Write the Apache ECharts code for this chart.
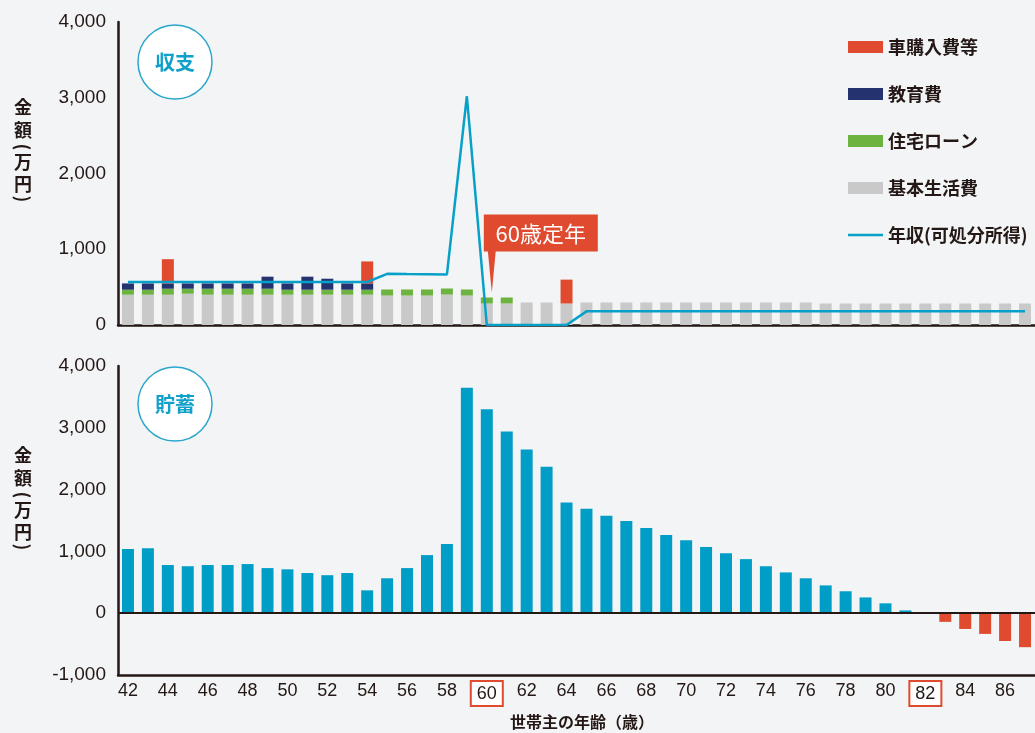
<!DOCTYPE html>
<html>
<head>
<meta charset="utf-8">
<script src="https://cdn.jsdelivr.net/npm/echarts@6/dist/echarts.min.js"></script>
<style>
  html, body { margin: 0; padding: 0; background: #f3f4f6; }
  #chart { width: 1035px; height: 733px; }
</style>
</head>
<body>
<div id="chart"></div>
<script>
// 世帯主の年齢（歳）
const ages = [];
for (let a = 42; a <= 87; a++) ages.push(String(a));

// 収支（万円）
const basicLiving = [
  400, 400, 400, 413, 400, 400, 400, 400, 400, 400, 400, 400, 400,
  389, 389, 389, 402, 389,
  284, 284, 297, 297, 284,
  297, 297, 297, 297, 297, 297, 297, 297, 297, 297, 297, 297,
  284, 284, 284, 284, 284, 284, 284, 284, 284, 284, 284
];
const homeLoan = [
  66, 66, 79, 66, 79, 79, 79, 79, 66, 66, 66, 66, 66,
  80, 80, 80, 80, 80,
  79, 79, 0, 0, 0,
  0, 0, 0, 0, 0, 0, 0, 0, 0, 0, 0, 0,
  0, 0, 0, 0, 0, 0, 0, 0, 0, 0, 0
];
const education = [
  83, 83, 70, 70, 70, 70, 70, 159, 83, 172, 145, 83, 83,
  0, 0, 0, 0, 0,
  0, 0, 0, 0, 0,
  0, 0, 0, 0, 0, 0, 0, 0, 0, 0, 0, 0,
  0, 0, 0, 0, 0, 0, 0, 0, 0, 0, 0
];
const carEtc = [
  0, 0, 320, 0, 0, 0, 0, 0, 0, 0, 0, 0, 290,
  0, 0, 0, 0, 0,
  0, 0, 0, 0, 315,
  0, 0, 0, 0, 0, 0, 0, 0, 0, 0, 0, 0,
  0, 0, 0, 0, 0, 0, 0, 0, 0, 0, 0
];
const income = [
  568, 568, 568, 568, 568, 568, 568, 568, 568, 568, 568, 568, 568,
  675, 672, 670, 667, 3020,
  0, 0, 0, 0, 0,
  180, 180, 180, 180, 180, 180, 180, 180, 180, 180, 180, 180,
  180, 180, 180, 180, 180, 180, 180, 180, 180, 180, 180
];

// 貯蓄（万円）
const savings = [
  1040, 1050, 780, 760, 780, 780, 795, 730, 710, 650, 615, 650, 370,
  565, 730, 940, 1120, 3650,
  3300, 2940, 2650, 2370, 1790,
  1690, 1575, 1490, 1380, 1265, 1180, 1070, 970, 875, 760, 660, 565,
  450, 355, 255, 160, 45, 0, -140, -255, -335, -450, -550
];

const highlightAges = ['60', '82'];
const incomeName = '年収(可処分所得)';
const legendNames = ['車購入費等', '教育費', '住宅ローン', '基本生活費', incomeName];

const INK = '#231815';
const BLUE = '#009ec7';
const LINE_BLUE = '#06a0c8';
const RED = '#e04a2f';
const NAVY = '#243370';
const GREEN = '#6db33f';
const GRAY = '#c9c9c9';
const NUM_FONT = '"Liberation Sans", Arial, sans-serif';
const JP_FONT = '"Noto Sans CJK JP", sans-serif';

const chart = echarts.init(document.getElementById('chart'), null, { renderer: 'canvas' });

const axisLineStyle = { show: true, lineStyle: { color: INK, width: 2.5 } };
const yLabel = {
  color: INK, fontSize: 19, fontFamily: NUM_FONT, margin: 12,
  formatter: v => v.toLocaleString('en-US')
};

// 縦書きの軸タイトル「金額（万円）」：括弧は横向きに回転して描く
function axisNameChars(offsetY) {
  const chars = [['金', 107, 0], ['額', 130, 0], ['(', 147, -Math.PI / 2],
                 ['万', 162, 0], ['円', 184, 0], [')', 199, -Math.PI / 2]];
  return chars.map(([c, y, rot]) => ({
    type: 'group', x: 23, y: y + offsetY, rotation: rot, z: 5,
    children: [{
      type: 'text', z: 5,
      style: {
        text: c, x: 0, y: 0, fill: INK, fontSize: 18, fontWeight: 'bold',
        fontFamily: JP_FONT, align: 'center', verticalAlign: 'middle'
      }
    }]
  }));
}

function badge(cx, cy, label) {
  return [
    { type: 'circle', shape: { cx: cx, cy: cy, r: 37 },
      style: { fill: '#ffffff', stroke: '#2aa6cb', lineWidth: 1.5 }, z: 10 },
    { type: 'text', z: 11,
      style: { text: label, x: cx, y: cy, fill: '#10a0c9', fontSize: 20, fontWeight: 'bold',
        fontFamily: JP_FONT, align: 'center', verticalAlign: 'middle' } }
  ];
}

const option = {
  backgroundColor: '#f3f4f6',
  animation: false,
  grid: [
    { left: 118, top: 22, right: -3, height: 303 },
    { left: 118, top: 366, right: -3, height: 309 }
  ],
  legend: {
    data: legendNames.map(n => n === incomeName
      ? { name: n, icon: 'path://M0,0H140V10H0Z' }
      : { name: n, icon: 'rect' }),
    orient: 'vertical',
    left: 848,
    top: 38,
    padding: 0,
    itemWidth: 35,
    itemHeight: 12,
    itemGap: 29,
    textStyle: { color: INK, fontSize: 18, fontWeight: 'bold', fontFamily: JP_FONT, padding: [0, 0, 0, 0] },
    selectedMode: false
  },
  xAxis: [
    {
      type: 'category', gridIndex: 0, data: ages, boundaryGap: true,
      axisLine: axisLineStyle, axisTick: { show: false }, axisLabel: { show: false }
    },
    {
      type: 'category', gridIndex: 1, data: ages, boundaryGap: true,
      axisLine: { show: true, onZero: false, lineStyle: { color: INK, width: 2.5 } },
      axisTick: { show: false },
      axisLabel: {
        interval: 1, margin: 7, color: INK, fontSize: 18, fontFamily: NUM_FONT,
        formatter: v => highlightAges.includes(v) ? '{box|' + v + '}' : v,
        rich: {
          box: {
            color: INK, fontSize: 18, fontFamily: NUM_FONT,
            borderColor: RED, borderWidth: 2, backgroundColor: '#ffffff',
            padding: [3, 5, 2, 5]
          }
        }
      }
    }
  ],
  yAxis: [
    {
      type: 'value', gridIndex: 0, min: 0, max: 4000, interval: 1000,
      axisLine: axisLineStyle, axisTick: { show: false }, splitLine: { show: false },
      axisLabel: yLabel
    },
    {
      type: 'value', gridIndex: 1, min: -1000, max: 4000, interval: 1000,
      axisLine: axisLineStyle, axisTick: { show: false }, splitLine: { show: false },
      axisLabel: yLabel
    }
  ],
  series: [
    { name: '基本生活費', type: 'bar', stack: 'cost', data: basicLiving, barWidth: 12,
      xAxisIndex: 0, yAxisIndex: 0, itemStyle: { color: GRAY } },
    { name: '住宅ローン', type: 'bar', stack: 'cost', data: homeLoan, barWidth: 12,
      xAxisIndex: 0, yAxisIndex: 0, itemStyle: { color: GREEN } },
    { name: '教育費', type: 'bar', stack: 'cost', data: education, barWidth: 12,
      xAxisIndex: 0, yAxisIndex: 0, itemStyle: { color: NAVY } },
    { name: '車購入費等', type: 'bar', stack: 'cost', data: carEtc, barWidth: 12,
      xAxisIndex: 0, yAxisIndex: 0, itemStyle: { color: RED } },
    { name: incomeName, type: 'line', data: income, xAxisIndex: 0, yAxisIndex: 0,
      symbol: 'none', z: 5, lineStyle: { color: LINE_BLUE, width: 2.5 },
      itemStyle: { color: LINE_BLUE } },
    { name: '貯蓄', type: 'bar', data: savings, barWidth: 12, xAxisIndex: 1, yAxisIndex: 1,
      itemStyle: { color: p => p.value < 0 ? RED : BLUE },
      markLine: {
        silent: true, symbol: 'none', label: { show: false },
        lineStyle: { color: INK, width: 2, type: 'solid' },
        data: [{ yAxis: 0 }]
      }
    }
  ]
};

chart.setOption(option);

// 注記（60歳定年の吹き出し）、バッジ、軸タイトル
const tip = chart.convertToPixel({ xAxisIndex: 0, yAxisIndex: 0 }, ['60', 430]);
const tipX = tip[0] + 5, tipY = tip[1];
const boxL = tipX - 8, boxT = tipY - 78, boxW = 114, boxH = 37;

chart.setOption({
  graphic: [
    ...badge(175, 62, '収支'),
    ...badge(175, 404, '貯蓄'),
    ...axisNameChars(0),
    ...axisNameChars(348),
    {
      type: 'rect', z: 20,
      shape: { x: boxL, y: boxT, width: boxW, height: boxH },
      style: { fill: RED }
    },
    {
      type: 'polygon', z: 20,
      shape: { points: [[tipX - 4, boxT + boxH - 1], [tipX + 4, boxT + boxH - 1], [tipX, tipY]] },
      style: { fill: RED }
    },
    {
      type: 'text', z: 21,
      style: { text: '60歳定年', x: boxL + boxW / 2, y: boxT + boxH / 2 + 1, fill: '#ffffff',
        fontSize: 22, fontFamily: JP_FONT, align: 'center', verticalAlign: 'middle' }
    },
    {
      type: 'text', z: 21,
      style: { text: '世帯主の年齢（歳）', x: 582, y: 722, fill: INK, fontSize: 16,
        fontWeight: 'bold', fontFamily: JP_FONT, align: 'center', verticalAlign: 'middle' }
    }
  ]
});
</script>
</body>
</html>
